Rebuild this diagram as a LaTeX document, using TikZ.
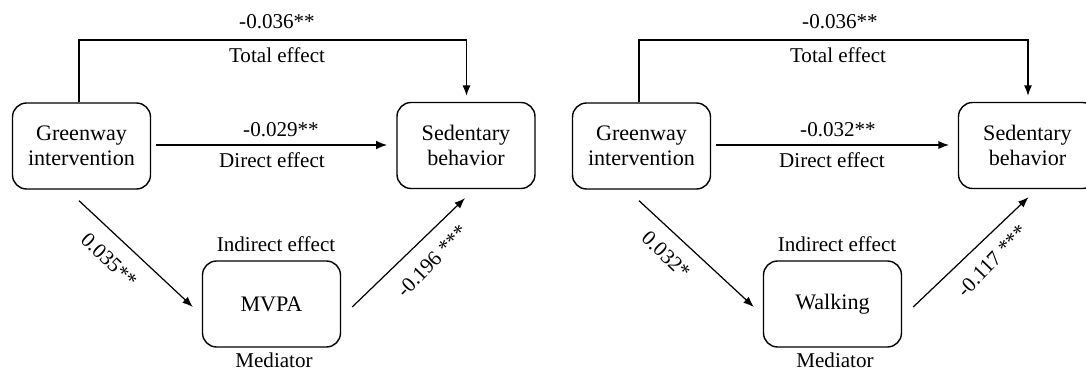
\documentclass[tikz,border=0pt]{standalone}
\usepackage{fontspec}
\setmainfont{Liberation Serif}
\usetikzlibrary{arrows.meta,calc}
\begin{document}
\begin{tikzpicture}[x=0.02cm,y=-0.02cm,
  every node/.style={font=\fontsize{12}{14.2}\selectfont, inner sep=0pt},
  box/.style={draw, line width=0.8pt, rounded corners=0.28cm, minimum width=2.76cm, minimum height=1.72cm, align=center, font=\fontsize{12.6}{14.4}\selectfont},
  lbl/.style={},
  arr/.style={line width=0.7pt, -{Latex[length=6pt,width=4.6pt]}},
  thickarr/.style={line width=1.2pt, -{Latex[length=6.5pt,width=5pt]}}]
\useasboundingbox (0,0) rectangle (1086,371);
% ---------- left panel ----------
\node[box] (gi1) at (81.5,146) {Greenway\\intervention};
\node[box] (sb1) at (466,145.5) {Sedentary\\behavior};
\node[box] (m1) at (271.5,304) {MVPA};
\coordinate (top1) at (270,40);
\draw[arr, shorten >=3.4pt] ([xshift=-2.5*0.02cm]gi1.north) |- (top1) -| ([xshift=0.5*0.02cm]sb1.north);
\draw[thickarr, shorten <=2.8pt, shorten >=5pt] (gi1.east |- 0,145) -- (sb1.west |- 0,145);
\draw[arr] ($(gi1.south)+(-2.5,11)$) -- ($(m1.west)+(-9,3)$);
\draw[arr] ($(m1.east)+(11,3)$) -- ($(sb1.south)+(-1,9)$);
\node[lbl] (l1a) at (277,22) {-0.036**};
\node[lbl] (l1b) at (277,55) {Total effect};
\node[lbl] (l1c) at (281,130) {-0.029**};
\node[lbl] (l1d) at (272,160) {Direct effect};
\node[lbl, rotate=-44] (l1e) at (109,260) {0.035**};
\node[lbl, rotate=46] (l1f) at (432,261) {-0.196 ***};
\node[lbl] (l1g) at (276,244) {Indirect effect};
\node[lbl] (l1h) at (274,360) {Mediator};
% ---------- right panel ----------
\node[box] (gi2) at (641.5,146) {Greenway\\intervention};
\node[box] (sb2) at (1027.5,145.5) {Sedentary\\behavior};
\node[box] (m2) at (832.5,304) {Walking};
\coordinate (top2) at (830,40);
\draw[arr, shorten >=3.4pt] ([xshift=-2.5*0.02cm]gi2.north) |- (top2) -| ([xshift=0.5*0.02cm]sb2.north);
\draw[arr, shorten <=2.8pt, shorten >=5pt] (gi2.east |- 0,145) -- (sb2.west |- 0,145);
\draw[arr] ($(gi2.south)+(-2.5,11)$) -- ($(m2.west)+(-9,3)$);
\draw[arr] ($(m2.east)+(11,3)$) -- ($(sb2.south)+(1,8)$);
\node[lbl] (l2a) at (840,22) {-0.036**};
\node[lbl] (l2b) at (838,55) {Total effect};
\node[lbl] (l2c) at (838,130) {-0.032**};
\node[lbl] (l2d) at (832,160) {Direct effect};
\node[lbl, rotate=-44] (l2e) at (666,255) {0.032*};
\node[lbl, rotate=46] (l2f) at (992,261) {-0.117 ***};
\node[lbl] (l2g) at (837,244) {Indirect effect};
\node[lbl] (l2h) at (835,360) {Mediator};
\end{tikzpicture}
\end{document}
